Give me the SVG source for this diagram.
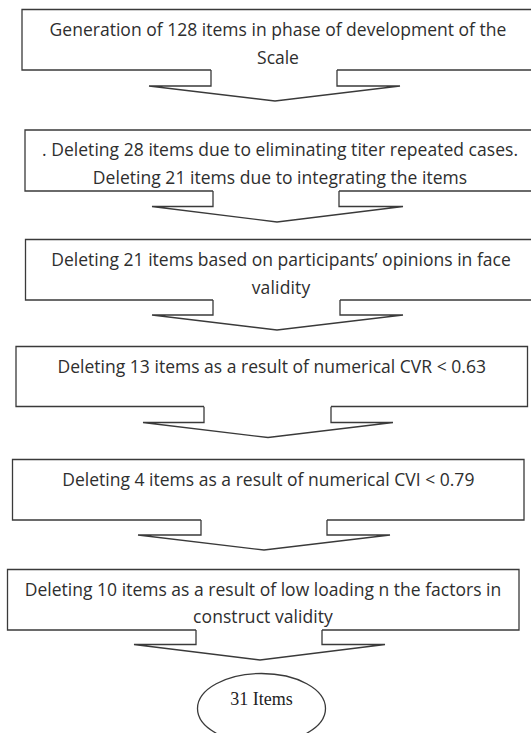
<svg xmlns="http://www.w3.org/2000/svg" width="531" height="733" viewBox="0 0 531 733">
  <style>
    .bg { fill: #ffffff; }
    .box { fill: #ffffff; stroke: #3a3a3a; stroke-width: 1.3; stroke-linejoin: miter; }
    .arr { fill: #ffffff; stroke: #3a3a3a; stroke-width: 1.3; stroke-linejoin: miter; }
    .t { font-family: "Open Sans", "Liberation Sans", sans-serif; font-size: 17.5px; fill: #2e2e2e; text-anchor: middle; }
    .ts { font-family: "Liberation Serif", "Times New Roman", serif; font-size: 18px; fill: #222222; text-anchor: middle; }
  </style>
  <rect class="bg" x="0" y="0" width="531" height="733"/>

  <g id="connectors">
    <path class="arr" d="M211,70 V86 H149 L275,101 L400,86 H337 V70"/>
    <path class="arr" d="M213,191 V206.5 H152 L277,222 L403,206.5 H339 V191"/>
    <path class="arr" d="M213,300 V315 H152 L277,330 L403,315 H340 V300"/>
    <path class="arr" d="M204,406.5 V422.5 H143 L268,437.5 L393,422.5 H331 V406.5"/>
    <path class="arr" d="M201,520 V535 H138 L264,550 L390,535 H327 V520"/>
    <path class="arr" d="M196,630 V644.5 H134 L260,660 L385,644.5 H322 V630"/>
  </g>

  <g id="node1">
    <path class="box" d="M211,70 H22 V9.5 H534 V70 H337"/>
    <text class="t" x="278" y="36" textLength="456.8">Generation of 128 items in phase of development of the</text>
    <text class="t" x="278" y="64" textLength="41.8">Scale</text>
  </g>

  <g id="node2">
    <path class="box" d="M213,191 H25 V130 H535 V191 H339"/>
    <text class="t" x="280" y="156" textLength="476">. Deleting 28 items due to eliminating titer repeated cases.</text>
    <text class="t" x="280" y="184" textLength="374.3">Deleting 21 items due to integrating the items</text>
  </g>

  <g id="node3">
    <path class="box" d="M213,300 H25.5 V239.5 H536 V300 H340"/>
    <text class="t" x="281" y="265.5" textLength="459.5">Deleting 21 items based on participants’ opinions in face</text>
    <text class="t" x="281" y="293.5" textLength="58.6">validity</text>
  </g>

  <g id="node4">
    <path class="box" d="M204,406.5 H16 V346.5 H527.5 V406.5 H331"/>
    <text class="t" x="271.7" y="372.5" textLength="428.5">Deleting 13 items as a result of numerical CVR &lt; 0.63</text>
  </g>

  <g id="node5">
    <path class="box" d="M201,520 H12.5 V459.5 H524 V520 H327"/>
    <text class="t" x="268.3" y="485.5" textLength="412.2">Deleting 4 items as a result of numerical CVI &lt; 0.79</text>
  </g>

  <g id="node6">
    <path class="box" d="M196,630 H7.5 V569.5 H519 V630 H322"/>
    <text class="t" x="263" y="595.5" textLength="476.5">Deleting 10 items as a result of low loading n the factors in</text>
    <text class="t" x="263" y="623" textLength="139.8">construct validity</text>
  </g>

  <g id="node7">
    <ellipse class="box" cx="261.5" cy="708.5" rx="64" ry="35"/>
    <text class="ts" x="261.5" y="705">31 Items</text>
  </g>
</svg>
